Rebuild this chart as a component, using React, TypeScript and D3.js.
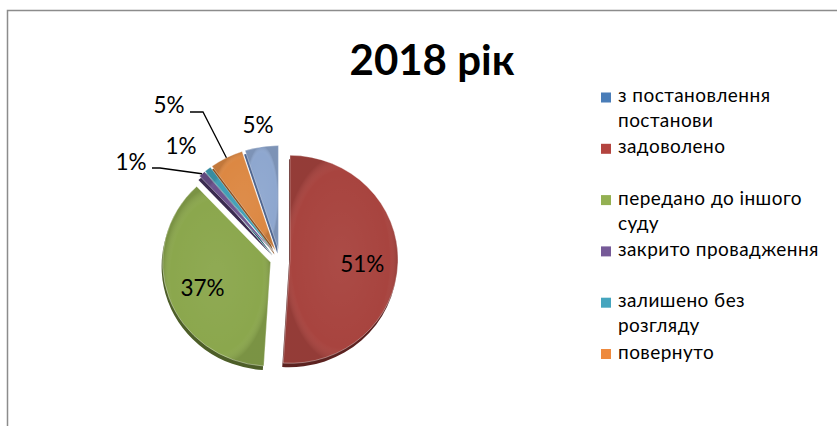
import React from "react";
import * as d3 from "d3";

// ---- data ----
const title = "2018 рік";
const categories = [
  "з постановлення постанови",
  "задоволено",
  "передано до іншого суду",
  "закрито провадження",
  "залишено без розгляду",
  "повернуто",
  "інше",
];
const values = [0, 51, 37, 1, 1, 5, 5];
const legendLines = [
  ["з постановлення", "постанови"],
  ["задоволено"],
  ["передано до іншого", "суду"],
  ["закрито провадження"],
  ["залишено без", "розгляду"],
  ["повернуто"],
  ["інше"],
];

// ---- style ----
const sliceColors = ["#4A7DB8", "#A8443F", "#8BA74D", "#6C528E", "#3F9FB6", "#DC8843", "#8EA7CF"];
const darkColors = ["#2c4a70", "#5c2220", "#4d5e28", "#3a2b50", "#20606e", "#8a5020", "#4f6690"];
const legendColors = ["#4A7DB8", "#B3443F", "#93B052", "#765A98", "#45A5BE", "#EE8A3E", "#8EA7CF"];

const W = 837;
const H = 426;
const cx = 280;
const cy = 259;
const R = 108;
const K = 104 / 108;
const EXPLODE = 10;
const DEPTH = 4;
const font = "Lato, 'Open Sans', sans-serif";

// outside label positions relative to pie centre (layout only)
const outsideLabels: Record<number, { dx: number; dy: number; leader: boolean }> = {
  3: { dx: -149, dy: -97, leader: true },
  4: { dx: -99, dy: -113, leader: false },
  5: { dx: -111, dy: -154, leader: true },
  6: { dx: -22, dy: -134, leader: false },
};

export default function App() {
  const pie = d3.pie<number>().sort(null).value((d) => d)(values);
  const arc = d3.arc<d3.PieArcDatum<number>>().innerRadius(0).outerRadius(R);
  const total = d3.sum(values);

  const slices = pie.map((p, i) => {
    const mid = (p.startAngle + p.endAngle) / 2;
    const dx = EXPLODE * Math.sin(mid);
    const dy = -EXPLODE * Math.cos(mid);
    return { p, i, mid, dx, dy };
  });

  const legendX = 601;
  const legendY0 = 102;
  const legendStep = 51.3;
  const lineH = 25;

  return (
    <svg width={W} height={H} style={{ position: "absolute", left: 0, top: 0 }}>
      <defs>
        <radialGradient id="bevel" cx="50%" cy="50%" r="50%">
          <stop offset="0%" stopColor="#fff" stopOpacity={0.04} />
          <stop offset="85%" stopColor="#fff" stopOpacity={0} />
          <stop offset="100%" stopColor="#000" stopOpacity={0.12} />
        </radialGradient>
      </defs>
      <rect x={0} y={0} width={W} height={H} fill="#fff" />
      <path d={`M7.5,${H} V10.5 H${W}`} fill="none" stroke="#8c8c8c" strokeWidth={1.5} />

      <text x={432} y={75} textAnchor="middle" fontFamily={font} fontWeight={700} fontSize={42} fill="#000">
        {title}
      </text>

      {/* depth layers */}
      {slices
        .filter((s) => s.p.value > 0)
        .map((s) => (
          <g key={"d" + s.i} transform={`translate(${cx - 1},${cy + DEPTH}) scale(1,${K}) translate(${s.dx},${s.dy})`}>
            <path d={arc(s.p) || ""} fill={darkColors[s.i]} />
          </g>
        ))}
      {/* top faces */}
      {slices
        .filter((s) => s.p.value > 0)
        .map((s) => (
          <g key={"t" + s.i} transform={`translate(${cx},${cy}) scale(1,${K}) translate(${s.dx},${s.dy})`}>
            <path d={arc(s.p) || ""} fill={sliceColors[s.i]} />
            <path d={arc(s.p) || ""} fill="url(#bevel)" stroke="#ffffff" strokeOpacity={0.45} strokeWidth={0.8} />
          </g>
        ))}

      {/* labels */}
      {slices
        .filter((s) => s.p.value > 0)
        .map((s) => {
          const pct = Math.round((s.p.value / total) * 100) + "%";
          const ol = outsideLabels[s.i];
          if (!ol) {
            const rr = R * 0.67;
            const x = cx + s.dx + rr * Math.sin(s.mid);
            const y = cy + K * (s.dy - rr * Math.cos(s.mid)) + 2;
            return (
              <text key={"l" + s.i} x={x} y={y} dy="0.36em" textAnchor="middle" fontFamily={font} fontSize={22.5} fill="#000">
                {pct}
              </text>
            );
          }
          const lx = cx + ol.dx;
          const ly = cy + ol.dy;
          const px = cx + s.dx + R * Math.sin(s.mid);
          const py = cy + K * (s.dy - R * Math.cos(s.mid));
          const startX = lx + 21;
          const kneeX = startX + (s.i === 3 ? 8 : 13);
          const lineY = ly + (s.i === 3 ? 6 : 7);
          return (
            <g key={"l" + s.i}>
              {ol.leader && (
                <path d={`M${startX},${lineY} H${kneeX} L${px},${py}`} fill="none" stroke="#000" strokeWidth={1.3} />
              )}
              <text x={lx} y={ly} dy="0.36em" textAnchor="middle" fontFamily={font} fontSize={22.5} fill="#000">
                {pct}
              </text>
            </g>
          );
        })}

      {/* legend */}
      {categories.map((c, i) => {
        const by = legendY0 + i * legendStep;
        if (by > 380) return null;
        return (
          <g key={"lg" + i}>
            <rect x={legendX} y={by - 9.5} width={10} height={10} fill={legendColors[i]} />
            {legendLines[i].map((ln, j) => (
              <text key={j} x={legendX + 17} y={by + j * lineH} fontFamily={font} fontSize={19} letterSpacing={0.45} fill="#000">
                {ln}
              </text>
            ))}
          </g>
        );
      })}
    </svg>
  );
}
